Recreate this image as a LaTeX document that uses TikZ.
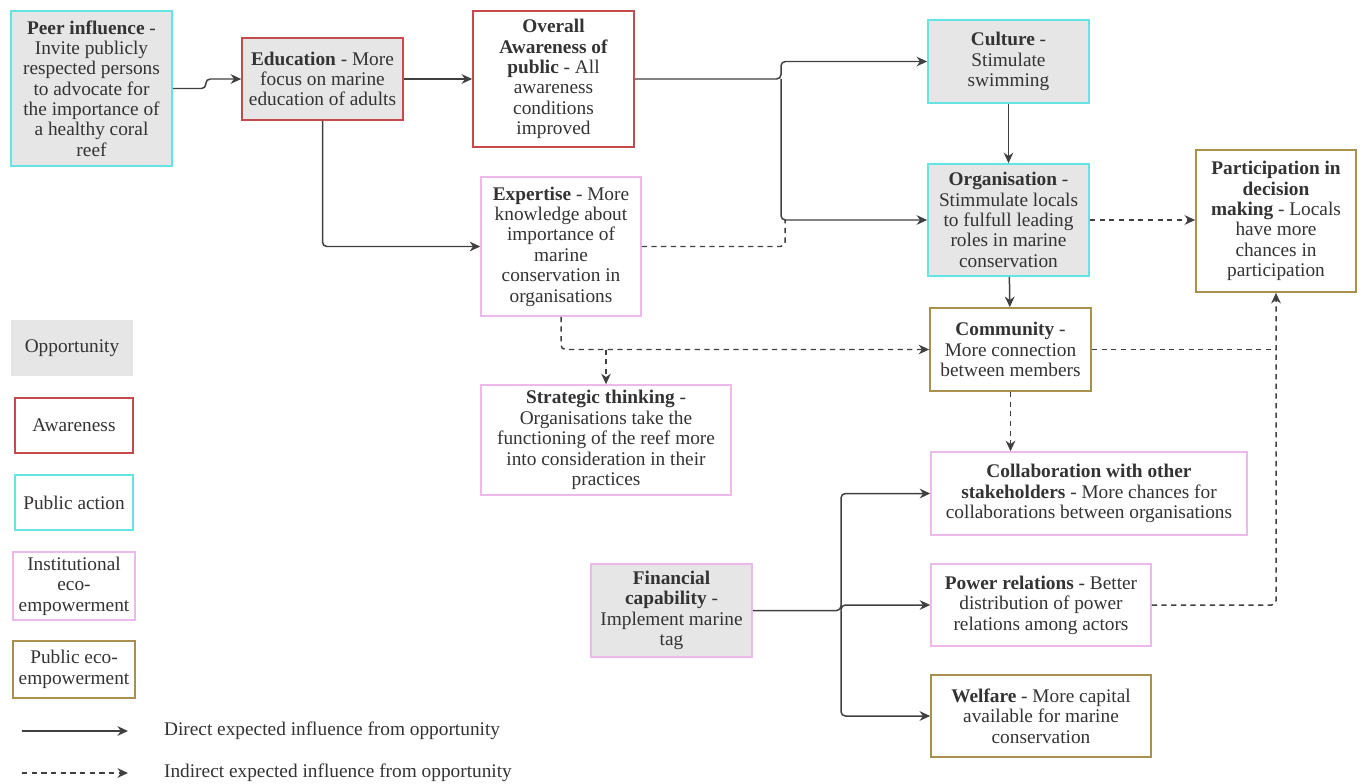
\documentclass[tikz,border=0pt]{standalone}
\usepackage{fontspec}
\setmainfont{Liberation Serif}
\usepackage{tikz}
\usetikzlibrary{arrows.meta}
\definecolor{oppgrey}{HTML}{E6E6E6}
\definecolor{awarered}{HTML}{C44A4F}
\definecolor{actioncyan}{HTML}{66E3E3}
\definecolor{instpink}{HTML}{EDB8EA}
\definecolor{publicgold}{HTML}{A8904F}
\definecolor{linec}{HTML}{404040}
\definecolor{textc}{HTML}{333333}
\newcommand{\ttl}[1]{\textbf{#1}}

\begin{document}
\begin{tikzpicture}[x=0.02cm,y=-0.02cm,
  box/.style={draw,align=center,inner sep=1pt,text=textc,font=\fontsize{11}{11.6}\selectfont},
  opp/.style={fill=oppgrey},
  awarebox/.style={box,draw=awarered,line width=1pt},
  actionbox/.style={box,draw=actioncyan,line width=1pt},
  instbox/.style={box,draw=instpink,line width=0.9pt},
  publicbox/.style={box,draw=publicgold,line width=1pt},
  solidarr/.style={draw=linec,line width=0.85pt,rounded corners=2.5pt,-{Stealth[length=6pt,width=5.5pt]}},
  dasharr/.style={solidarr,dash pattern=on 3pt off 2.5pt},
  dashline/.style={draw=linec,line width=0.85pt,rounded corners=2.5pt,dash pattern=on 3pt off 2.5pt}]
\useasboundingbox (0,0) rectangle (1366,784);
\node[actionbox,opp,minimum width=3.22cm,minimum height=3.1cm] (peer) at (91.5,88.5) {\ttl{Peer influence} -\\Invite publicly\\respected persons\\to advocate for\\the importance of\\a healthy coral\\reef};
\node[awarebox,opp,minimum width=3.22cm,minimum height=1.64cm] (edu) at (322.5,79) {\ttl{Education} - More\\focus on marine\\education of adults};
\node[awarebox,minimum width=3.22cm,minimum height=2.72cm] (aware) at (553.5,79) {\ttl{Overall}\\\ttl{Awareness of}\\\ttl{public} - All\\awareness\\conditions\\improved};
\node[actionbox,opp,minimum width=3.22cm,minimum height=1.66cm] (culture) at (1008.5,61.5) {\ttl{Culture} -\\Stimulate\\swimming};
\node[actionbox,opp,minimum width=3.22cm,minimum height=2.24cm] (org) at (1008.5,220) {\ttl{Organisation} -\\Stimmulate locals\\to fulfull leading\\roles in marine\\conservation};
\node[publicbox,minimum width=3.2cm,minimum height=2.84cm] (partic) at (1276,221) {\ttl{Participation in}\\\ttl{decision}\\\ttl{making} - Locals\\have more\\chances in\\participation};
\node[instbox,minimum width=3.2cm,minimum height=2.78cm] (expert) at (561,246.5) {\ttl{Expertise} - More\\knowledge about\\importance of\\marine\\conservation in\\organisations};
\node[publicbox,minimum width=3.22cm,minimum height=1.66cm] (commun) at (1010.5,349.5) {\ttl{Community} -\\More connection\\between members};
\node[instbox,minimum width=5cm,minimum height=2.2cm] (strat) at (606,440) {\ttl{Strategic thinking} -\\Organisations take the\\functioning of the reef more\\into consideration in their\\practices};
\node[instbox,minimum width=6.32cm,minimum height=1.66cm] (collab) at (1089,493.5) {\ttl{Collaboration with other}\\\ttl{stakeholders} - More chances for\\collaborations between organisations};
\node[instbox,minimum width=4.4cm,minimum height=1.64cm] (power) at (1041,605) {\ttl{Power relations} - Better\\distribution of power\\relations among actors};
\node[publicbox,minimum width=4.4cm,minimum height=1.64cm] (welfare) at (1041,716) {\ttl{Welfare} - More capital\\available for marine\\conservation};
\node[instbox,opp,minimum width=3.22cm,minimum height=1.86cm] (finan) at (671.5,610.5) {\ttl{Financial}\\\ttl{capability} -\\Implement marine\\tag};

\node[box,draw=none,opp,minimum width=2.44cm,minimum height=1.12cm] (keyopp) at (72,348) {Opportunity};
\node[awarebox,minimum width=2.36cm,minimum height=1.1cm] (keyaware) at (74,425.5) {Awareness};
\node[actionbox,minimum width=2.36cm,minimum height=1.1cm] (keyaction) at (74,502.5) {Public action};
\node[instbox,minimum width=2.44cm,minimum height=1.36cm] (keyinst) at (74,586) {Institutional\\eco-\\empowerment};
\node[publicbox,minimum width=2.44cm,minimum height=1.14cm] (keypublic) at (74,669.5) {Public eco-\\empowerment};
\coordinate (d0) at (22,731);
\coordinate (d1) at (128,731);
\coordinate (i0) at (22,773);
\coordinate (i1) at (128,773);
\draw[solidarr] (d0) -- (d1);
\draw[dasharr] (i0) -- (i1);
\node[box,draw=none,anchor=west] (ldirect) at (162,731) {Direct expected influence from opportunity};
\node[box,draw=none,anchor=west] (lindirect) at (162,773) {Indirect expected influence from opportunity};

\coordinate (forkA) at (781,79);
\coordinate (joinA) at (785,220);
\coordinate (forkC) at (841,610.5);
\draw[solidarr] (peer.east) -- ++(33,0) |- (edu.west);
\draw[solidarr] (edu.east) -- (aware.west);
\draw[solidarr] (edu.south) |- (expert.west);
\draw[solidarr] (aware.east) -- (forkA) |- (culture.west);
\draw[solidarr] (forkA) |- (org.west);
\draw[solidarr] (culture) -- (org);
\draw[solidarr] (org) -- (commun);
\draw[dasharr] (org.east) -- (org.east -| partic.west);
\draw[dashline] (expert.east) -| (joinA);
\draw[dasharr] (expert.south) |- (commun.west);
\draw[dasharr] (strat.north |- commun.west) -- (strat.north);
\draw[dasharr] (commun.south) -- (commun.south |- collab.north);
\draw[dashline] (commun.east) -- (partic.south |- commun.east);
\draw[dasharr] (power.east) -| (partic.south);
\draw[solidarr] (finan.east) -- (forkC) |- (collab.west);
\draw[solidarr] (forkC) |- (power.west);
\draw[solidarr] (forkC) |- (welfare.west);
\end{tikzpicture}
\end{document}
